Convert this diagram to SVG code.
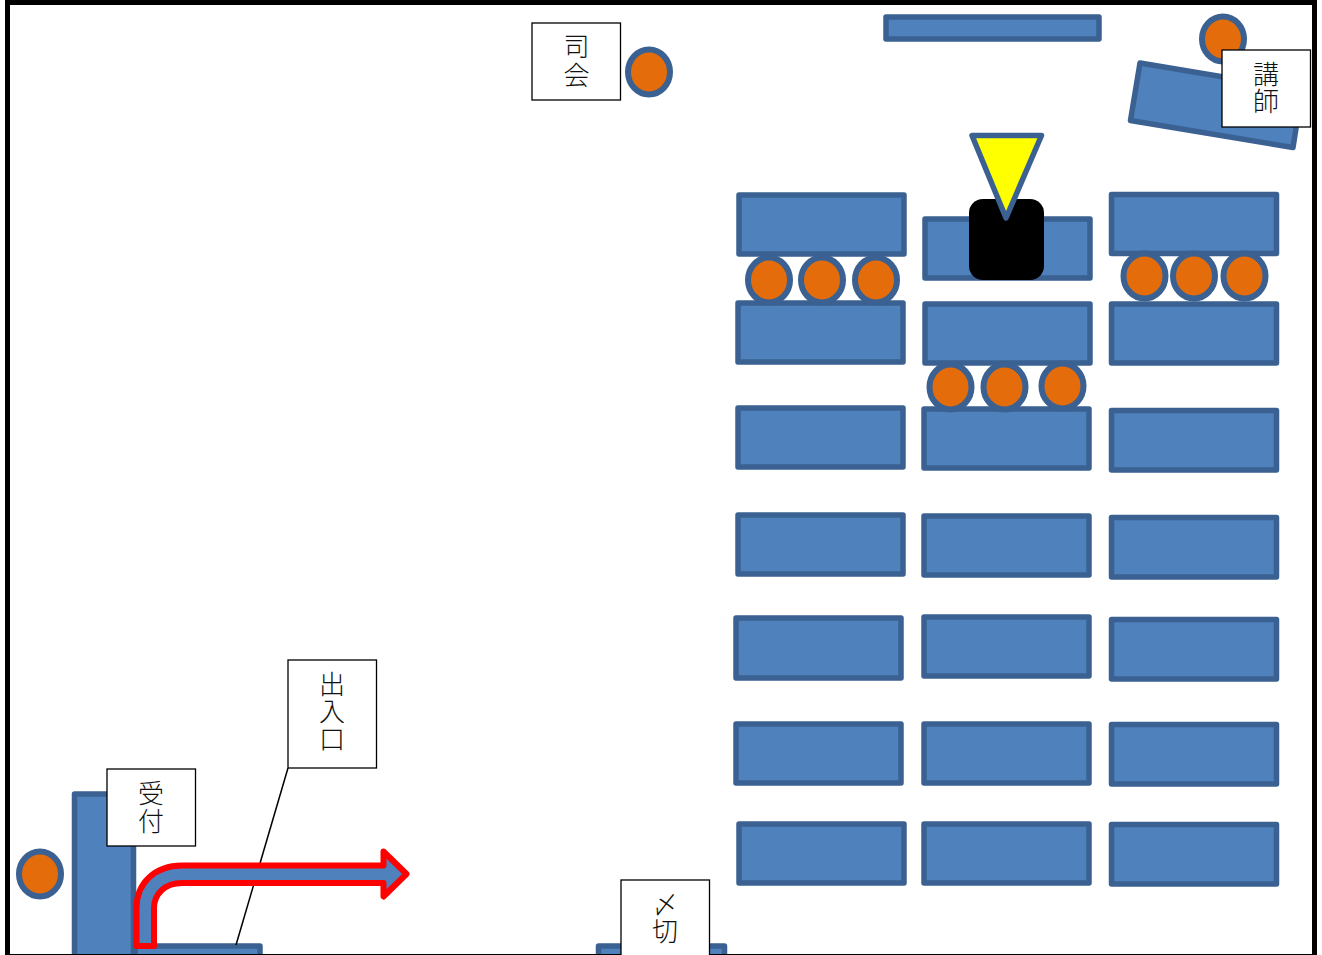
<svg xmlns="http://www.w3.org/2000/svg" width="1322" height="955" viewBox="0 0 1322 955">
<style>
.t{fill:#4f81bd;stroke:#3a6191;stroke-width:5.500;stroke-linejoin:round}
.c{fill:#e46c0a;stroke:#3a6191;stroke-width:6}
.l{fill:#fff;stroke:#000;stroke-width:1.300}
.x{font-family:"Noto Sans CJK JP","Noto Sans CJK SC",sans-serif;font-size:26px;text-anchor:middle;fill:#111;font-weight:300}
</style>
<rect width="1322" height="955" fill="#fff"/>
<g id="tables">
<rect class="t" x="739" y="195" width="165" height="59"/>
<rect class="t" x="738" y="303" width="165" height="59"/>
<rect class="t" x="738" y="408" width="165" height="59"/>
<rect class="t" x="738" y="515" width="165" height="59"/>
<rect class="t" x="736" y="618" width="165" height="60"/>
<rect class="t" x="736" y="724" width="165" height="59"/>
<rect class="t" x="739" y="824" width="165" height="59"/>
<rect class="t" x="925" y="219" width="165" height="59"/>
<rect class="t" x="925" y="304" width="165" height="59"/>
<rect class="t" x="924" y="409" width="165" height="59"/>
<rect class="t" x="924" y="516" width="165" height="59"/>
<rect class="t" x="924" y="617" width="165" height="59"/>
<rect class="t" x="924" y="724" width="165" height="59"/>
<rect class="t" x="924" y="824" width="165" height="59"/>
<rect class="t" x="1111.500" y="194.500" width="165" height="59"/>
<rect class="t" x="1111.500" y="304" width="165" height="59"/>
<rect class="t" x="1111.500" y="410.500" width="165" height="59.500"/>
<rect class="t" x="1111.500" y="517.500" width="165" height="59.500"/>
<rect class="t" x="1111.500" y="619.500" width="165" height="59.500"/>
<rect class="t" x="1111.500" y="724.500" width="165" height="59.500"/>
<rect class="t" x="1111.500" y="824.500" width="165" height="59.500"/>
<rect class="t" x="886" y="17" width="213" height="22"/>
<path class="t" d="M1140 63L1130.500 120.500L1293 147.500L1302 90Z"/>
<rect class="t" x="74.500" y="794" width="59" height="170"/>
<rect class="t" x="135" y="946" width="125" height="20"/>
<rect class="t" x="598.500" y="946" width="126" height="20"/>
</g>
<g id="seats">
<ellipse class="c" cx="769" cy="280" rx="21" ry="22.500"/>
<ellipse class="c" cx="822" cy="280" rx="21" ry="22.500"/>
<ellipse class="c" cx="876" cy="280" rx="21" ry="22.500"/>
<ellipse class="c" cx="1144.500" cy="276" rx="21" ry="22.500"/>
<ellipse class="c" cx="1194" cy="276" rx="21" ry="22.500"/>
<ellipse class="c" cx="1244.500" cy="276" rx="21" ry="22.500"/>
<ellipse class="c" cx="950.500" cy="387" rx="21" ry="22.500"/>
<ellipse class="c" cx="1004.500" cy="387" rx="21" ry="22.500"/>
<ellipse class="c" cx="1062.500" cy="386" rx="21" ry="22.500"/>
<ellipse class="c" cx="649" cy="72" rx="21" ry="22.500"/>
<ellipse class="c" cx="1223" cy="39" rx="21" ry="22.500"/>
<ellipse class="c" cx="40" cy="874" rx="21" ry="22.500"/>
</g>
<g id="speaker">
<rect x="969" y="199" width="75" height="81" rx="14" fill="#000"/>
<path d="M972 135.500H1041.500L1006 218Z" fill="#ff0" stroke="#3a6191" stroke-width="5.500" stroke-linejoin="round"/>
</g>
<g id="connectors">
<path d="M288 768L236 945" fill="none" stroke="#000" stroke-width="1.500"/>
<path d="M136.500 946V908C136.500 883 155 865.500 182 865.500H383.500V851.500L406.500 874L383.500 896.500V883H182C165 883 154 894 154 908V946Z" fill="#4f81bd" stroke="#f00" stroke-width="6" stroke-linejoin="round"/>
</g>
<g id="frame">
<path d="M7.500 955V2.500H1314.500V955" fill="none" stroke="#000" stroke-width="5"/>
<path d="M7 954.500H1315" fill="none" stroke="#000" stroke-width="1"/>
</g>
<g id="label-shikai"><rect class="l" x="532" y="23" width="88.500" height="77"/><text class="x"><tspan x="576.500" y="56">司</tspan><tspan x="576.500" y="85">会</tspan></text></g>
<g id="label-koshi"><rect class="l" x="1222" y="50" width="88.500" height="77"/><text class="x"><tspan x="1266" y="84">講</tspan><tspan x="1266" y="111">師</tspan></text></g>
<g id="label-uketsuke"><rect class="l" x="107" y="769" width="88.500" height="77"/><text class="x"><tspan x="151" y="803">受</tspan><tspan x="151" y="831">付</tspan></text></g>
<g id="label-deiriguchi"><rect class="l" x="288" y="660" width="88.500" height="108"/><text class="x"><tspan x="332" y="694">出</tspan><tspan x="332" y="721">入</tspan><tspan x="332" y="749">口</tspan></text></g>
<g id="label-shimekiri"><rect class="l" x="621" y="880" width="88.500" height="80"/><text class="x"><tspan x="665" y="914">〆</tspan><tspan x="665" y="941">切</tspan></text></g>
</svg>
